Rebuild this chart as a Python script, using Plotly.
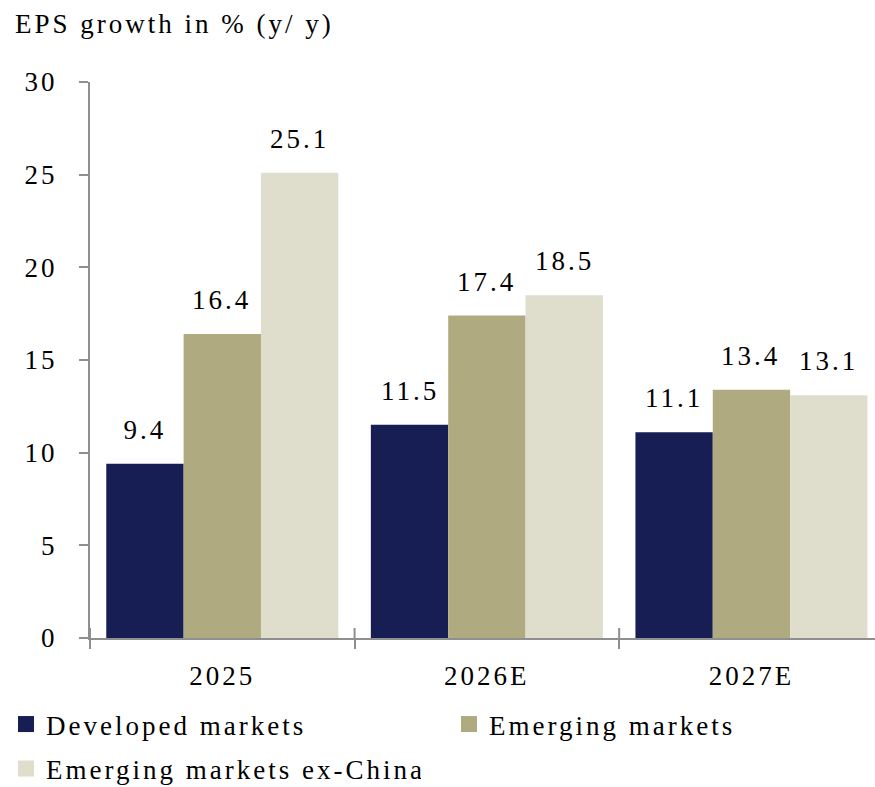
import plotly.graph_objects as go

# ---- data ----
categories = ["2025", "2026E", "2027E"]
developed = [9.4, 11.5, 11.1]
emerging = [16.4, 17.4, 13.4]
emerging_ex_china = [25.1, 18.5, 13.1]
series_names = ["Developed markets", "Emerging markets", "Emerging markets ex-China"]
y_ticks = [0, 5, 10, 15, 20, 25, 30]
title_text = "EPS growth in % (y/ y)"

# ---- style ----
colors = ["#161E54", "#B0AA80", "#DFDECD"]
AXIS_GRAY = "#8f8f8f"
FONT = dict(family="Liberation Serif, Times New Roman, serif", size=27, color="#000000")
W, H = 875, 787
ML, MR, MT, MB = 90, 0, 82, 149
BARGAP = 0.123
XRANGE = [-0.5, 2.467]

series = [developed, emerging, emerging_ex_china]

fig = go.Figure()
for name, vals, col in zip(series_names, series, colors):
    fig.add_trace(go.Bar(x=categories, y=vals, name=name,
                         marker=dict(color=col, line=dict(width=0)),
                         showlegend=False, hoverinfo="skip"))

# legend entries (square swatches), one legend box per entry
legend_ids = ["legend", "legend2", "legend3"]
for name, col, lid in zip(series_names, colors, legend_ids):
    fig.add_trace(go.Scatter(x=[None], y=[None], mode="markers", name=name,
                             marker=dict(symbol="square", size=16, color=col),
                             legend=lid, hoverinfo="skip"))

# data labels above each bar (category index positions on the category axis)
plot_w = W - ML - MR
px_per_unit = plot_w / (XRANGE[1] - XRANGE[0])
bar_px = px_per_unit * (1 - BARGAP) / len(series)
n = len(series)
for j, vals in enumerate(series):
    for k, v in enumerate(vals):
        fig.add_annotation(x=k, y=v, text=f"{v:.1f}", showarrow=False,
                           xref="x", yref="y", yanchor="bottom",
                           xshift=(j - (n - 1) / 2) * bar_px, yshift=17,
                           font=FONT)

# tick marks crossing the category axis (inner half)
for k in range(len(categories)):
    fig.add_shape(type="line", xref="x", yref="y", x0=k - 0.5, x1=k - 0.5,
                  ysizemode="pixel", yanchor=0, y0=0, y1=10,
                  line=dict(color=AXIS_GRAY, width=2))

legend_common = dict(orientation="h", xref="container", yref="container",
                     xanchor="left", yanchor="top", font=FONT,
                     bgcolor="rgba(0,0,0,0)", entrywidth=370, entrywidthmode="pixels",
                     itemclick=False, itemdoubleclick=False)

fig.update_layout(
    width=W, height=H,
    margin=dict(l=ML, r=MR, t=MT, b=MB),
    paper_bgcolor="white", plot_bgcolor="white",
    barmode="group", bargap=BARGAP, bargroupgap=0,
    font=FONT,
    title=dict(text=title_text, x=15 / W, xref="container", xanchor="left",
               y=1 - 24 / H, yref="container", yanchor="middle", font=FONT),
    xaxis=dict(type="category", range=XRANGE, showline=True, linecolor=AXIS_GRAY,
               linewidth=2, ticks="outside", tickson="boundaries", ticklen=9,
               tickwidth=2, tickcolor=AXIS_GRAY, showgrid=False, zeroline=False,
               ticklabelstandoff=13, tickfont=FONT),
    yaxis=dict(range=[0, 30], tickvals=y_ticks, showline=True, linecolor=AXIS_GRAY,
               linewidth=2, ticks="outside", ticklen=9, tickwidth=2,
               tickcolor=AXIS_GRAY, showgrid=False, zeroline=False,
               ticklabelstandoff=16, tickfont=FONT),
    legend=dict(x=6 / W, y=1 - 700 / H, **legend_common),
    legend2=dict(x=449 / W, y=1 - 700 / H, **legend_common),
    legend3=dict(x=6 / W, y=1 - 744.5 / H, **legend_common),
    showlegend=True,
)

post = ("var s=document.createElement('style');"
        "s.textContent='body{margin:0} .main-svg text{letter-spacing:3px}';"
        "document.head.appendChild(s);")
fig.write_html("out.html", post_script=post, config={"displayModeBar": False})
